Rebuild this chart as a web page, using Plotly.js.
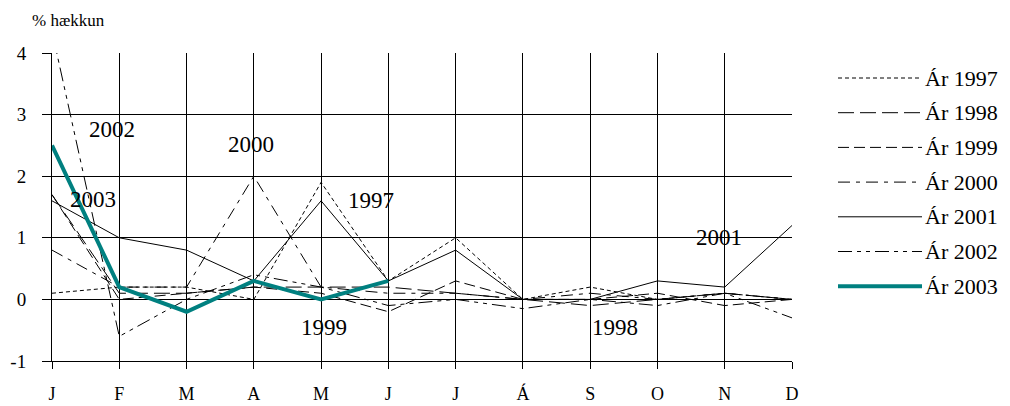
<!DOCTYPE html>
<html><head><meta charset="utf-8">
<script src="https://cdn.plot.ly/plotly-3.0.1.min.js"></script>
<style>html,body{margin:0;padding:0;background:#fff}#chart{width:1010px;height:406px}</style>
</head><body><div id="chart"></div>
<script>
const months = ["J","F","M","A","M","J","J","Á","S","O","N","D"];
const yTicks = [-1,0,1,2,3,4];
const years = ["1997","1998","1999","2000","2001","2002","2003"];
const v1997 = [0.1, 0.2, 0.2, 0.0, 1.9, 0.3, 1.0, 0.0, 0.2, 0.0, 0.1, 0.0];
const v1998 = [1.7, 0.1, 0.1, 0.2, 0.2, 0.2, 0.1, 0.0, -0.1, 0.0, 0.1, 0.0];
const v1999 = [1.7, 0.0, 0.1, 0.2, 0.1, -0.2, 0.3, 0.0, 0.0, 0.1, -0.1, 0.0];
const v2000 = [0.8, 0.2, 0.2, 2.0, 0.2, 0.1, 0.1, 0.0, 0.1, 0.0, 0.1, 0.0];
const v2001 = [1.6, 1.0, 0.8, 0.3, 1.6, 0.3, 0.8, 0.0, 0.0, 0.3, 0.2, 1.2];
const v2002 = [4.35, -0.6, 0.0, 0.4, 0.2, -0.1, 0.0, -0.15, 0.0, -0.1, 0.1, -0.3];
const v2003 = [2.5, 0.2, -0.2, 0.3, 0.0, 0.3];
// in-chart year labels: [text, x index, y value]
const yearLabels = [["2002",0.89,2.76],["2003",0.61,1.62],["2000",2.96,2.51],["1997",4.74,1.6],["1999",4.04,-0.46],["1998",8.37,-0.46],["2001",9.92,1.0]];

const series = [v1997,v1998,v1999,v2000,v2001,v2002,v2003];
const styles = [
  {color:'#000', width:1, dash:'4px,3px'},
  {color:'#000', width:1, dash:'16px,6px'},
  {color:'#000', width:1, dash:'11px,5px'},
  {color:'#000', width:1, dash:'12px,6px,4px,6px'},
  {color:'#000', width:1, dash:'solid'},
  {color:'#000', width:1, dash:'14px,5px,4px,5px,4px,5px'},
  {color:'#008080', width:4, dash:'solid'}
];
const FONT = '"Times New Roman", "Liberation Serif", serif';
const traces = series.map((vals,k)=>({
  x: vals.map((_,i)=>i), y: vals, type:'scatter', mode:'lines',
  name:'Ár '+years[k], line: Object.assign({}, styles[k]), showlegend:false, hoverinfo:'skip'
}));

const L=52, R=792, T=53, B=361;
const px = p => (p-L)/(R-L), py = p => (B-p)/(B-T);
const shapes = [], annotations = [];
years.forEach((yr,k)=>{
  const yy = 78 + k*34.7;
  shapes.push({type:'line', xref:'paper', yref:'paper', x0:px(838), x1:px(922), y0:py(yy), y1:py(yy), line:Object.assign({}, styles[k])});
  annotations.push({xref:'paper', yref:'paper', x:px(923), y:py(yy), xanchor:'left', yanchor:'middle', text:'Ár '+yr, showarrow:false, font:{family:FONT,size:22,color:'#000'}});
});
yearLabels.forEach(([t,x,y])=>annotations.push({x:x, y:y, text:t, showarrow:false, font:{family:FONT,size:23,color:'#000'}}));
annotations.push({xref:'paper', yref:'paper', x:px(30), y:py(21), xanchor:'left', yanchor:'middle', text:'% hækkun', showarrow:false, font:{family:FONT,size:17,color:'#000'}});

const layout = {
  width:1010, height:406, paper_bgcolor:'#fff', plot_bgcolor:'#fff',
  margin:{l:L, r:1010-R, t:T, b:406-B, pad:0},
  font:{family:FONT, size:18, color:'#000'},
  showlegend:false,
  xaxis:{range:[0, months.length-1], tickvals:months.map((_,i)=>i), ticktext:months, showgrid:true, gridcolor:'#000', gridwidth:1,
    zeroline:false, showline:true, linecolor:'#000', linewidth:1, mirror:false, ticks:'outside', ticklen:7, tickcolor:'#000', ticklabelstandoff:9, fixedrange:true,
    tickfont:{family:FONT, size:18, color:'#000'}},
  yaxis:{range:[-1,4], tickvals:yTicks, ticktext:yTicks.map(String), showgrid:true, gridcolor:'#000', gridwidth:1,
    zeroline:false, showline:true, linecolor:'#000', linewidth:1, ticks:'outside', ticklen:9, tickcolor:'#000', ticklabelstandoff:12, fixedrange:true,
    tickfont:{family:FONT, size:19, color:'#000'}},
  shapes: shapes, annotations: annotations
};
Plotly.newPlot('chart', traces, layout, {staticPlot:true, displayModeBar:false});
</script></body></html>
